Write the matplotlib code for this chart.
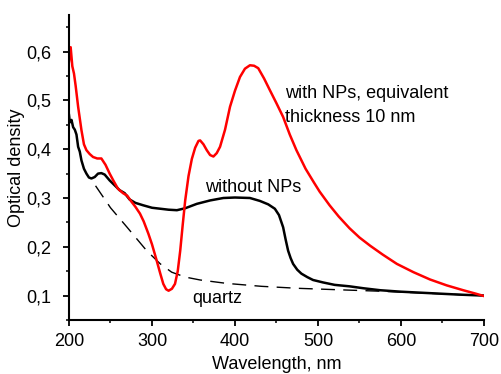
import matplotlib
matplotlib.use("Agg")
import matplotlib.pyplot as plt
from matplotlib.ticker import MultipleLocator, FuncFormatter

plt.rcParams['font.family'] = ['Liberation Sans', 'DejaVu Sans']

# with NPs (red)
red_wl = [200, 202, 204, 206, 208, 211, 215, 218, 221, 225, 229, 234, 239, 244, 249, 254,
          259, 265, 270, 275, 280, 285.5, 290, 295.6, 300, 305.6, 310, 313.6, 317, 320, 324,
          327.7, 331, 334, 337, 340, 344, 348, 352, 356, 358, 362, 366, 370, 374, 378, 382,
          388, 394, 400, 406, 412, 418, 423, 428, 435, 442, 450, 458, 466, 474, 485, 495,
          502, 514, 525, 538, 550, 563, 578, 595, 615, 635, 655, 675, 690, 700]
red_od = [0.58, 0.609, 0.57, 0.555, 0.53, 0.487, 0.439, 0.41, 0.398, 0.39, 0.384, 0.381,
          0.381, 0.368, 0.35, 0.334, 0.319, 0.31, 0.305, 0.293, 0.282, 0.268, 0.252, 0.227,
          0.205, 0.172, 0.145, 0.124, 0.113, 0.110, 0.114, 0.124, 0.15, 0.192, 0.245, 0.295,
          0.345, 0.38, 0.403, 0.417, 0.418, 0.41, 0.398, 0.388, 0.385, 0.392, 0.405, 0.44,
          0.487, 0.52, 0.548, 0.565, 0.572, 0.571, 0.566, 0.545, 0.521, 0.494, 0.466, 0.43,
          0.398, 0.36, 0.332, 0.313, 0.285, 0.262, 0.238, 0.219, 0.202, 0.184, 0.165, 0.148,
          0.133, 0.121, 0.111, 0.104, 0.099]

# without NPs (black)
blk_wl = [200, 201, 203, 205, 207, 209, 211, 213, 215, 218, 221, 224, 227, 231, 235, 239,
          243, 249, 255, 261, 267, 273, 280, 289.5, 300, 310, 320, 330, 340, 354, 370, 386,
          400, 418, 430, 440, 448, 453, 458, 461, 464, 467, 470, 475, 480, 487, 494, 506,
          520, 538, 555, 575, 600, 635, 670, 700]
blk_od = [0.47, 0.455, 0.46, 0.445, 0.44, 0.43, 0.405, 0.395, 0.377, 0.36, 0.35, 0.342,
          0.34, 0.343, 0.35, 0.351, 0.348, 0.336, 0.326, 0.316, 0.31, 0.297, 0.29, 0.285,
          0.28, 0.278, 0.276, 0.275, 0.279, 0.288, 0.295, 0.30, 0.301, 0.30, 0.294, 0.287,
          0.278, 0.265, 0.24, 0.215, 0.192, 0.177, 0.165, 0.153, 0.145, 0.138, 0.132, 0.127,
          0.122, 0.119, 0.115, 0.111, 0.108, 0.105, 0.102, 0.1]

# quartz (dashed)
qz_wl = [232, 250, 270, 293.6, 310, 323.7, 340, 358, 390, 432, 475, 524, 575, 630, 700]
qz_od = [0.325, 0.28, 0.24, 0.192, 0.165, 0.148, 0.138, 0.132, 0.125, 0.119, 0.115,
         0.112, 0.109, 0.105, 0.1]

fig = plt.figure(figsize=(5.02, 3.74), dpi=100)
ax = fig.add_axes([69/502, 1-320/374, (484-69)/502, (320-15)/374])

ax.plot(qz_wl, qz_od, color='black', lw=1.0, dashes=(10, 6))
ax.plot(blk_wl, blk_od, color='black', lw=1.8)
ax.plot(red_wl, red_od, color='#ff0000', lw=1.8)

ax.set_xlim(200, 700)
ax.set_ylim(0.05, 0.675)
ax.xaxis.set_major_locator(MultipleLocator(100))
ax.xaxis.set_minor_locator(MultipleLocator(50))
ax.yaxis.set_major_locator(MultipleLocator(0.1))
ax.yaxis.set_minor_locator(MultipleLocator(0.05))
ax.yaxis.set_major_formatter(FuncFormatter(lambda v, p: f"{v:.1f}".replace('.', ',')))

for s in ['top', 'right']:
    ax.spines[s].set_visible(False)
for s in ['left', 'bottom']:
    ax.spines[s].set_linewidth(1.5)

ax.tick_params(axis='both', which='major', direction='out', length=4.5, width=1.3,
               labelsize=13, colors='black')
ax.tick_params(axis='both', which='minor', direction='out', length=2.5, width=1.1)
ax.tick_params(axis='y', which='major', pad=8)
ax.tick_params(axis='x', which='major', pad=5)

ax.set_xlabel('Wavelength, nm', fontsize=13)
ax.set_ylabel('Optical density', fontsize=13)
ax.xaxis.set_label_coords(0.5, -0.118)
ax.yaxis.set_label_coords(-0.106, 0.5)

ax.text(460, 0.515, 'with NPs, equivalent', fontsize=13, va='center', ha='left')
ax.text(460, 0.465, 'thickness 10 nm', fontsize=13, va='center', ha='left')
ax.text(364, 0.322, 'without NPs', fontsize=13, va='center', ha='left')
ax.text(348, 0.094, 'quartz', fontsize=13, va='center', ha='left')

fig.savefig('out.png', dpi=100)
